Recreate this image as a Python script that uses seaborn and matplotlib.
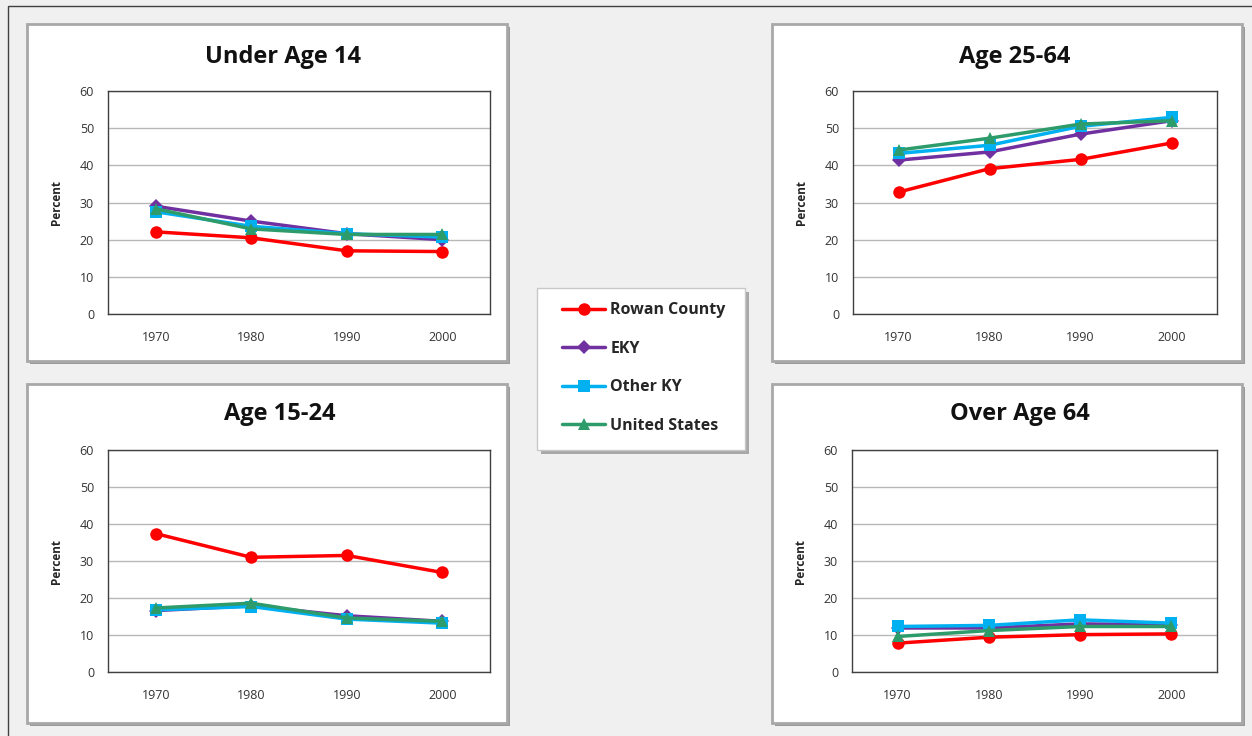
import matplotlib
matplotlib.use("Agg")
import matplotlib.pyplot as plt
from matplotlib.patches import Rectangle
import seaborn as sns
import pandas as pd

# data
years = ["1970", "1980", "1990", "2000"]
series = ["Rowan County", "EKY", "Other KY", "United States"]

under14_rowan = [22.1, 20.5, 17.0, 16.8]
under14_eky = [29.0, 25.0, 21.6, 20.0]
under14_otherky = [27.5, 23.6, 21.6, 20.7]
under14_us = [28.3, 22.9, 21.4, 21.4]

age15_24_rowan = [37.4, 31.0, 31.5, 26.9]
age15_24_eky = [16.6, 17.9, 15.2, 13.7]
age15_24_otherky = [16.8, 17.7, 14.3, 13.2]
age15_24_us = [17.3, 18.6, 14.6, 13.7]

age25_64_rowan = [32.8, 39.1, 41.6, 46.0]
age25_64_eky = [41.4, 43.6, 48.4, 52.0]
age25_64_otherky = [43.2, 45.4, 50.5, 52.9]
age25_64_us = [44.1, 47.3, 51.1, 52.0]

over64_rowan = [7.8, 9.4, 10.1, 10.3]
over64_eky = [11.9, 11.9, 13.0, 12.8]
over64_otherky = [12.3, 12.6, 14.1, 13.2]
over64_us = [9.6, 11.2, 12.3, 12.3]

panel_titles = ["Under Age 14", "Age 25-64", "Age 15-24", "Over Age 64"]
panel_values = [
    [under14_rowan, under14_eky, under14_otherky, under14_us],
    [age25_64_rowan, age25_64_eky, age25_64_otherky, age25_64_us],
    [age15_24_rowan, age15_24_eky, age15_24_otherky, age15_24_us],
    [over64_rowan, over64_eky, over64_otherky, over64_us],
]

colors = {"Rowan County": "#ff0000", "EKY": "#7030a0",
          "Other KY": "#00b0f0", "United States": "#2e9b6b"}
markers = {"Rowan County": "o", "EKY": "D", "Other KY": "s", "United States": "^"}
msizes = {"Rowan County": 9, "EKY": 7, "Other KY": 8, "United States": 9}

sns.set_style("white")
plt.rcParams["font.family"] = ["Open Sans", "DejaVu Sans"]

W, H = 1252, 736
fig = plt.figure(figsize=(W / 100, H / 100), dpi=100)
fig.patch.set_facecolor("#f0f0f0")


def fx(x):
    return x / W


def fy(y):
    return 1 - y / H


# outer thin border (left and top edges only show)
fig.patches.append(Rectangle((fx(8), fy(760)), fx(1270), 754 / H, transform=fig.transFigure,
                             fill=False, edgecolor="#404040", linewidth=1, zorder=-5))

# panel boxes (left, top, right, bottom) in pixels
boxes = [(27, 24, 507, 361), (772, 24, 1242, 361), (27, 384, 507, 723), (772, 384, 1242, 723)]
# axes areas in pixels
axes_px = [(108, 91, 490, 314), (853, 91, 1217, 314), (108, 450, 490, 672), (852, 450, 1217, 672)]
title_pos = [(283, 57), (1015, 57), (280, 414), (1020, 414)]

for (l, t, r, b) in boxes:
    fig.patches.append(Rectangle((fx(l + 3), fy(b + 3)), (r - l) / W, (b - t) / H,
                                 transform=fig.transFigure, facecolor="#9a9a9a",
                                 edgecolor="none", zorder=-4))
    fig.patches.append(Rectangle((fx(l), fy(b)), (r - l) / W, (b - t) / H,
                                 transform=fig.transFigure, facecolor="white",
                                 edgecolor="#a8a8a8", linewidth=2, zorder=-3))

handles = None
for i in range(4):
    l, t, r, b = axes_px[i]
    ax = fig.add_axes([fx(l), fy(b), (r - l) / W, (b - t) / H])
    ax.set_zorder(2)
    rows = []
    for name, vals in zip(series, panel_values[i]):
        for yr, v in zip(years, vals):
            rows.append({"Year": yr, "Percent": v, "Series": name})
    df = pd.DataFrame(rows)
    for name in series:
        sub = df[df["Series"] == name]
        sns.lineplot(data=sub, x="Year", y="Percent", ax=ax, color=colors[name],
                     marker=markers[name], markersize=msizes[name], markeredgewidth=0,
                     linewidth=2.5, label=name, sort=False)
    ax.set_xlim(-0.5, 3.5)
    ax.set_ylim(0, 60)
    ax.set_yticks(range(0, 61, 10))
    ax.yaxis.grid(True, color="#b8b8b8", linewidth=1)
    ax.set_axisbelow(True)
    for s in ax.spines.values():
        s.set_color("#404040")
        s.set_linewidth(1)
    ax.tick_params(axis="both", length=0, labelsize=9, colors="#333333")
    ax.tick_params(axis="x", pad=12)
    ax.tick_params(axis="y", pad=10)
    ax.set_xlabel("")
    ax.set_ylabel("Percent", fontsize=8.5, fontweight="bold", labelpad=12)
    handles, labels = ax.get_legend_handles_labels()
    ax.get_legend().remove()
    tx, ty = title_pos[i]
    fig.text(fx(tx), fy(ty), panel_titles[i], ha="center", va="center",
             fontsize=17, fontweight="bold", color="#111111")

# legend box with shadow
lx0, ly0, lx1, ly1 = 537, 288, 745, 450
fig.patches.append(Rectangle((fx(lx0 + 4), fy(ly1 + 4)), (lx1 - lx0) / W, (ly1 - ly0) / H,
                             transform=fig.transFigure, facecolor="#a8a8a8",
                             edgecolor="none", zorder=-4))
fig.patches.append(Rectangle((fx(lx0), fy(ly1)), (lx1 - lx0) / W, (ly1 - ly0) / H,
                             transform=fig.transFigure, facecolor="white",
                             edgecolor="#c8c8c8", linewidth=1, zorder=-3))
leg = fig.legend(handles, series, loc="center", bbox_to_anchor=(fx(644), fy(368)),
                 frameon=False, handlelength=2.7, labelspacing=1.4, handletextpad=0.3,
                 prop={"size": 11.5, "weight": "bold"})
leg.set_zorder(5)

fig.savefig("out.png", dpi=100, facecolor=fig.get_facecolor())
